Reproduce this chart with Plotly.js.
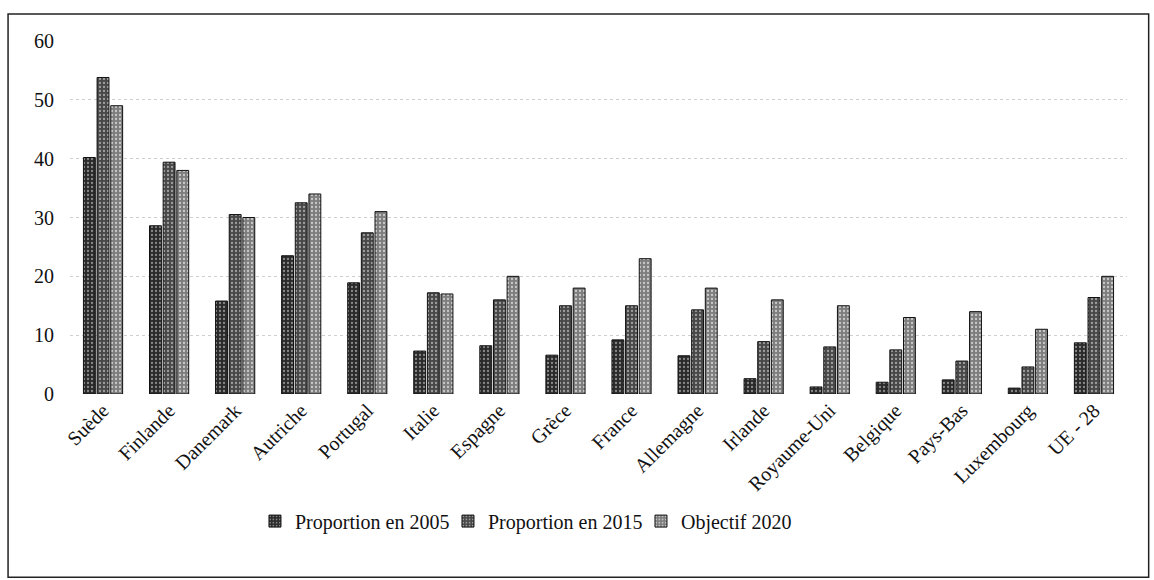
<!DOCTYPE html>
<html>
<head>
<meta charset="utf-8">
<script src="https://cdn.plot.ly/plotly-3.0.1.min.js"></script>
<style>
html,body{margin:0;padding:0;background:#fff;}
#chart{width:1154px;height:580px;}
</style>
</head>
<body>
<div id="chart"></div>
<script>
const categories = ["Suède","Finlande","Danemark","Autriche","Portugal","Italie","Espagne","Grèce","France","Allemagne","Irlande","Royaume-Uni","Belgique","Pays-Bas","Luxembourg","UE - 28"];
const proportion2005 = [40.2, 28.6, 15.8, 23.5, 18.9, 7.3, 8.2, 6.6, 9.2, 6.5, 2.6, 1.2, 2.0, 2.4, 1.0, 8.7];
const proportion2015 = [53.8, 39.4, 30.5, 32.5, 27.4, 17.2, 16.0, 15.0, 15.0, 14.3, 8.9, 8.0, 7.5, 5.6, 4.6, 16.4];
const objectif2020 = [49, 38, 30, 34, 31, 17, 20, 18, 23, 18, 16, 15, 13, 14, 11, 20];
const seriesNames = ["Proportion en 2005", "Proportion en 2015", "Objectif 2020"];
const yTicks = [0, 10, 20, 30, 40, 50, 60];

const SERIF = "Liberation Serif";
const fillColors = ["#2a2a2a", "#484848", "#7e7e7e"];
const dotColors = ["#8a8a8a", "#a0a0a0", "#cacaca"];
const seriesValues = [proportion2005, proportion2015, objectif2020];

const traces = seriesValues.map((vals, i) => ({
  type: "bar",
  name: seriesNames[i],
  x: categories,
  y: vals,
  marker: {
    color: fillColors[i],
    line: {color: "#111", width: 1},
    pattern: {shape: ".", fgcolor: dotColors[i], bgcolor: fillColors[i], size: 4, solidity: 0.25}
  },
  hoverinfo: "x+y"
}));

const layout = {
  width: 1154,
  height: 580,
  margin: {l: 70, r: 27, t: 41, b: 186},
  paper_bgcolor: "#fff",
  plot_bgcolor: "#fff",
  font: {family: SERIF, color: "#111", size: 20},
  barmode: "group",
  bargap: 0.38,
  bargroupgap: 0.13,
  showlegend: true,
  legend: {
    orientation: "h",
    x: 0.175, xanchor: "left",
    y: -0.36, yanchor: "middle",
    font: {family: SERIF, size: 20, color: "#111"},
    itemwidth: 30,
    entrywidth: 148,
    traceorder: "normal"
  },
  xaxis: {
    type: "category",
    tickangle: -45,
    tickfont: {family: SERIF, size: 20, color: "#111"},
    showgrid: false,
    showline: false,
    zeroline: false,
    ticks: ""
  },
  yaxis: {
    range: [0, 60],
    tickvals: yTicks,
    ticktext: yTicks.map(String),
    tickfont: {family: SERIF, size: 20, color: "#111"},
    showgrid: true,
    gridcolor: "#cfcfcf",
    griddash: "dot",
    gridwidth: 1,
    zeroline: false,
    showline: false,
    ticks: "",
    ticklabelstandoff: 15
  },
  shapes: [{
    type: "rect",
    xref: "paper", yref: "paper",
    x0: -0.0586, x1: 1.0205,
    y0: -0.519, y1: 1.0765,
    line: {color: "#222", width: 1.5},
    fillcolor: "rgba(0,0,0,0)",
    layer: "below"
  }]
};

Plotly.newPlot("chart", traces, layout, {staticPlot: true, displayModeBar: false});
</script>
</body>
</html>
